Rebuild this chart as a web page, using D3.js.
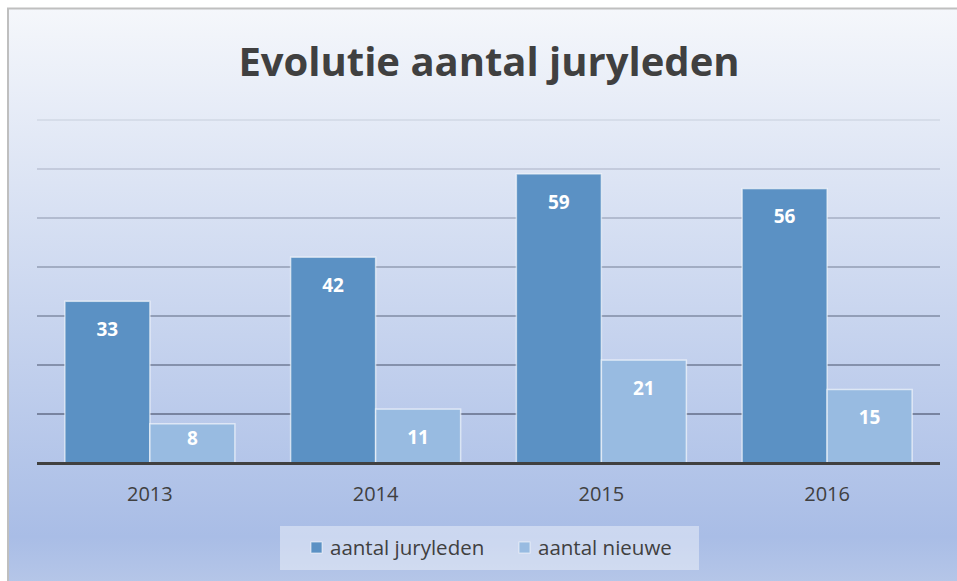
<!DOCTYPE html>
<html>
<head>
<meta charset="UTF-8">
<script src="https://d3js.org/d3.v7.min.js"></script>
<style>
body { margin: 0; background: #fff; }
text { font-family: "Open Sans", "Noto Sans", sans-serif; }
</style>
</head>
<body>
<svg width="957" height="581"></svg>
<script>

var years = ["2013", "2014", "2015", "2016"];
var juryleden = [33, 42, 59, 56];
var nieuwe = [8, 11, 21, 15];
var seriesNames = ["aantal juryleden", "aantal nieuwe"];
var gridTicks = [0, 10, 20, 30, 40, 50, 60, 70];

var svg = d3.select("svg"),
    plotLeft = 37, plotRight = 940, plotTop = 120, plotBottom = 463;

var colors = ["#5b91c4", "#98bbe1"];

var defs = svg.append("defs");
var bg = defs.append("linearGradient").attr("id", "bg")
    .attr("x1", 0).attr("y1", 0).attr("x2", 0).attr("y2", 1);
bg.append("stop").attr("offset", "0%").attr("stop-color", "#f5f7fb");
bg.append("stop").attr("offset", "88%").attr("stop-color", "#a9bde6");
bg.append("stop").attr("offset", "100%").attr("stop-color", "#bccbe9");

// chart area
svg.append("rect")
    .attr("x", 8).attr("y", 8.5)
    .attr("width", 960).attr("height", 600)
    .attr("fill", "url(#bg)")
    .attr("stroke", "#bfbfbf")
    .attr("stroke-width", 2);

var x0 = d3.scaleBand().domain(years).range([plotLeft, plotRight]).paddingInner(0.247).paddingOuter(0.1235);
var x1 = d3.scaleBand().domain([0, 1]).range([0, x0.bandwidth()]);
var y = d3.scaleLinear().domain([0, 70]).range([plotBottom, plotTop]);

// gridlines, lighter towards the top
svg.append("g")
  .selectAll("line")
  .data(gridTicks.slice(1))
  .enter().append("line")
    .attr("x1", plotLeft).attr("x2", plotRight)
    .attr("y1", function(d) { return y(d); })
    .attr("y2", function(d) { return y(d); })
    .attr("stroke", "#56607a")
    .attr("stroke-width", 2)
    .attr("stroke-opacity", function(d) { return 0.75 - d / 70 * 0.65; });

var rows = years.map(function(yr, i) { return {year: yr, vals: [juryleden[i], nieuwe[i]]}; });

var groups = svg.append("g")
  .selectAll("g")
  .data(rows)
  .enter().append("g")
    .attr("transform", function(d) { return "translate(" + x0(d.year) + ",0)"; });

groups.selectAll("rect")
  .data(function(d) { return d.vals.map(function(v, k) { return {k: k, v: v}; }); })
  .enter().append("rect")
    .attr("x", function(d) { return x1(d.k); })
    .attr("y", function(d) { return y(d.v); })
    .attr("width", x1.bandwidth())
    .attr("height", function(d) { return y(0) - y(d.v); })
    .attr("fill", function(d) { return colors[d.k]; })
    .attr("stroke", "rgba(255,255,255,0.6)")
    .attr("stroke-width", 1.5);

groups.selectAll("text.lbl")
  .data(function(d) { return d.vals.map(function(v, k) { return {k: k, v: v}; }); })
  .enter().append("text")
    .attr("class", "lbl")
    .attr("x", function(d) { return x1(d.k) + x1.bandwidth() / 2; })
    .attr("y", function(d) { return Math.min(y(d.v) + 28, y(0) - 25); })
    .attr("dy", "0.35em")
    .attr("text-anchor", "middle")
    .attr("fill", "#fff")
    .attr("font-weight", "bold")
    .attr("font-size", 19)
    .text(function(d) { return d.v; });

// baseline
svg.append("line")
    .attr("x1", plotLeft).attr("x2", plotRight)
    .attr("y1", y(0) + 0.5).attr("y2", y(0) + 0.5)
    .attr("stroke", "#404040")
    .attr("stroke-width", 3);

var xAxis = svg.append("g")
    .attr("transform", "translate(0," + (y(0) + 31) + ")")
    .call(d3.axisBottom(x0).tickSize(0).tickPadding(0));
xAxis.select(".domain").remove();
xAxis.selectAll("text")
    .attr("font-size", 20)
    .attr("fill", "#404040")
    .attr("dy", "0.35em")
    .style("font-family", "'Open Sans', 'Noto Sans', sans-serif");

svg.append("text")
    .attr("x", 489).attr("y", 62)
    .attr("dy", "0.35em")
    .attr("text-anchor", "middle")
    .attr("font-size", 40)
    .attr("font-weight", "bold")
    .attr("fill", "#404040")
    .text("Evolutie aantal juryleden");

// legend
svg.append("rect")
    .attr("x", 280).attr("y", 526)
    .attr("width", 419).attr("height", 44)
    .attr("fill", "#ffffff")
    .attr("fill-opacity", 0.4);

var legendX = [311, 519];
var legend = svg.append("g")
  .selectAll("g")
  .data(seriesNames)
  .enter().append("g")
    .attr("transform", function(d, i) { return "translate(" + legendX[i] + ",548)"; });

legend.append("rect")
    .attr("x", 0).attr("y", -6)
    .attr("width", 11).attr("height", 11)
    .attr("fill", function(d, i) { return colors[i]; })
    .attr("stroke", "rgba(255,255,255,0.6)");

legend.append("text")
    .attr("x", 19)
    .attr("dy", "0.35em")
    .attr("font-size", 20.5)
    .attr("fill", "#404040")
    .text(function(d) { return d; });

</script>
</body>
</html>
